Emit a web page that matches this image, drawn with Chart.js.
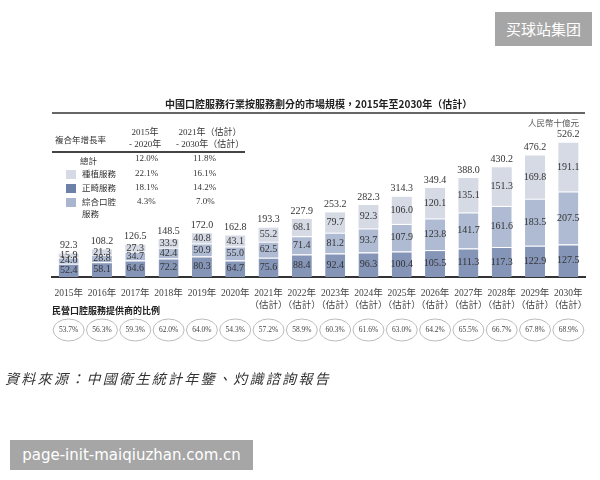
<!DOCTYPE html>
<html>
<head>
<meta charset="utf-8">
<script src="https://cdn.jsdelivr.net/npm/chart.js@4.4.0/dist/chart.umd.min.js"></script>
<style>
  body { margin:0; background:#fff; }
  #wrap { position:relative; width:600px; height:480px; overflow:hidden; }
  #c { position:absolute; left:0; top:0; }
  .t { position:absolute; white-space:nowrap; color:#333; font-family:"Liberation Serif","Noto Sans CJK TC",serif; }
  .cjk { font-family:"Noto Sans CJK TC",sans-serif; }
  .sw { position:absolute; width:10px; height:9px; }
  .ln { position:absolute; background:#444; }
</style>
</head>
<body>
<div id="wrap">
  <canvas id="c" width="600" height="480"></canvas>

  <div class="t cjk" style="left:165px;top:96px;font-size:10px;font-weight:bold;color:#222;">中國口腔服務行業按服務劃分的市場規模，2015年至2030年（估計）</div>
  <div class="ln" style="left:52px;top:112px;width:533px;height:2px;background:#666;"></div>
  <div class="t cjk" style="left:528px;top:116px;font-size:8.5px;color:#555;">人民幣十億元</div>

  <div class="t cjk" style="left:55px;top:133px;font-size:8.5px;">複合年增長率</div>
  <div class="t" style="left:129px;top:126px;font-size:9px;text-align:center;line-height:12px;">2015年<br>- 2020年</div>
  <div class="t" style="left:176px;top:126px;font-size:9px;text-align:center;line-height:12px;">2021年（估計）<br>- 2030年（估計）</div>
  <div class="ln" style="left:52px;top:151px;width:193px;height:1.5px;"></div>
  <div class="t cjk" style="left:80px;top:154px;font-size:8.5px;">總計</div>
  <div class="t" style="left:135px;top:153px;font-size:9px;">12.0%</div>
  <div class="t" style="left:193px;top:153px;font-size:9px;">11.8%</div>

  <div class="sw" style="left:66px;top:170px;background:#d6dae4;"></div>
  <div class="t cjk" style="left:82px;top:167px;font-size:8.5px;">種植服務</div>
  <div class="t" style="left:135px;top:168px;font-size:9px;">22.1%</div>
  <div class="t" style="left:193px;top:168px;font-size:9px;">16.1%</div>

  <div class="sw" style="left:66px;top:184px;background:#6d80a8;"></div>
  <div class="t cjk" style="left:82px;top:181px;font-size:8.5px;">正畸服務</div>
  <div class="t" style="left:135px;top:182px;font-size:9px;">18.1%</div>
  <div class="t" style="left:193px;top:182px;font-size:9px;">14.2%</div>

  <div class="sw" style="left:66px;top:198px;background:#aab6d0;"></div>
  <div class="t cjk" style="left:82px;top:195px;font-size:8.5px;line-height:12px;">綜合口腔<br>服務</div>
  <div class="t" style="left:137px;top:196px;font-size:9px;">4.3%</div>
  <div class="t" style="left:196px;top:196px;font-size:9px;">7.0%</div>

  <div class="t cjk" style="left:52px;top:304px;font-size:9px;font-weight:bold;color:#222;">民營口腔服務提供商的比例</div>

  <div class="t cjk" style="left:5px;top:368px;font-size:14px;font-style:italic;letter-spacing:2.3px;color:#333;">資料來源：中國衛生統計年鑒、灼識諮詢報告</div>

  <div style="position:absolute;left:495px;top:12px;width:97px;height:34px;background:#a6a6a6;color:#fff;font-family:'Noto Sans CJK SC',sans-serif;font-size:15px;line-height:34px;text-align:center;">买球站集团</div>
  <div style="position:absolute;left:10px;top:440px;width:243px;height:30px;background:#a6a6a6;color:#fff;font-family:'DejaVu Sans',sans-serif;font-size:15px;line-height:30px;text-align:center;">page-init-maiqiuzhan.com.cn</div>
</div>

<script>
var years = ['2015','2016','2017','2018','2019','2020','2021','2022','2023','2024','2025','2026','2027','2028','2029','2030'];
var general = [52.4, 58.1, 64.6, 72.2, 80.3, 64.7, 75.6, 88.4, 92.4, 96.3, 100.4, 105.5, 111.3, 117.3, 122.9, 127.5];
var ortho = [24.0, 28.8, 34.7, 42.4, 50.9, 55.0, 62.5, 71.4, 81.2, 93.7, 107.9, 123.8, 141.7, 161.6, 183.5, 207.5];
var implant = [15.9, 21.3, 27.3, 33.9, 40.8, 43.1, 55.2, 68.1, 79.7, 92.3, 106.0, 120.1, 135.1, 151.3, 169.8, 191.1];
var totals = [92.3, 108.2, 126.5, 148.5, 172.0, 162.8, 193.3, 227.9, 253.2, 282.3, 314.3, 349.4, 388.0, 430.2, 476.2, 526.2];
var privateShare = [53.7, 56.3, 59.3, 62.0, 64.0, 54.3, 57.2, 58.9, 60.3, 61.6, 63.0, 64.2, 65.5, 66.7, 67.8, 68.9];

var labels = years.map(function(y){
  return parseInt(y) >= 2021 ? [y + '年', '（估計）'] : y + '年';
});

// numbers inside bars, totals on top, share ellipses below
var labelPlugin = {
  id: 'labelPlugin',
  afterDatasetsDraw: function(chart){
    var ctx = chart.ctx;
    ctx.save();
    ctx.font = '10px "Liberation Serif", serif';
    ctx.fillStyle = '#333';
    ctx.textAlign = 'center';
    ctx.textBaseline = 'middle';
    chart.data.datasets.forEach(function(ds, di){
      var meta = chart.getDatasetMeta(di);
      meta.data.forEach(function(bar, i){
        var mid = (bar.y + bar.base) / 2;
        ctx.fillText(ds.data[i].toFixed(1), bar.x, mid);
      });
    });
    var top = chart.getDatasetMeta(2);
    top.data.forEach(function(bar, i){
      ctx.fillText(totals[i].toFixed(1), bar.x, bar.y - 8);
    });

    var xs = chart.scales.x;
    ctx.font = '7.5px "Liberation Serif", serif';
    for (var i = 0; i < privateShare.length; i++){
      var cx = xs.getPixelForValue(i);
      ctx.beginPath();
      ctx.ellipse(cx, 330, 15.5, 11, 0, 0, Math.PI * 2);
      ctx.strokeStyle = '#bbb';
      ctx.lineWidth = 1;
      ctx.stroke();
      ctx.fillStyle = '#444';
      ctx.fillText(privateShare[i].toFixed(1) + '%', cx, 330);
    }
    ctx.restore();
  }
};

var ctx = document.getElementById('c').getContext('2d');
var chart = new Chart(ctx, {
  type: 'bar',
  data: {
    labels: labels,
    datasets: [
      { label: '綜合口腔服務', data: general, backgroundColor: '#8595b8', borderColor: '#fff', borderWidth: {top: 1}, borderSkipped: false },
      { label: '正畸服務', data: ortho, backgroundColor: '#aebbd2', borderColor: '#fff', borderWidth: {top: 1}, borderSkipped: false },
      { label: '種植服務', data: implant, backgroundColor: '#d6dae5', borderColor: '#fff', borderWidth: 0 }
    ]
  },
  plugins: [labelPlugin],
  options: {
    responsive: false,
    animation: false,
    maintainAspectRatio: false,
    layout: { padding: { left: 52, right: 15, top: 124, bottom: 163 } },
    datasets: { bar: { barPercentage: 0.6, categoryPercentage: 1 } },
    plugins: {
      legend: { display: false },
      tooltip: { enabled: false }
    },
    scales: {
      x: {
        stacked: true,
        grid: { display: false },
        border: { color: '#333', width: 2 },
        ticks: {
          color: '#444',
          font: { size: 9.5, family: '"Liberation Serif", "Noto Sans CJK TC", serif' },
          padding: 3,
          maxRotation: 0,
          autoSkip: false
        },
        afterFit: function(scale){ scale.height = 40; }
      },
      y: {
        stacked: true,
        display: false,
        min: 0,
        max: 600
      }
    }
  }
});
</script>
</body>
</html>
